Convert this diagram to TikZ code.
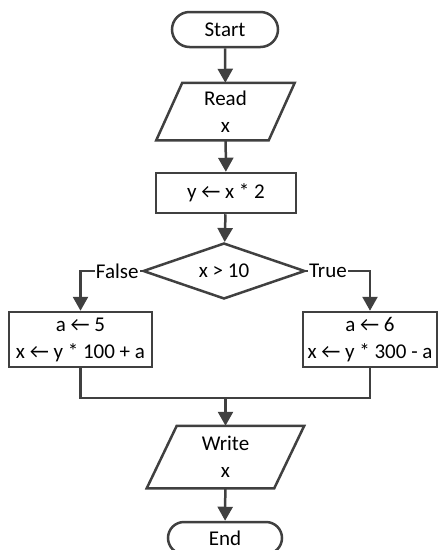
\documentclass[tikz,border=0pt]{standalone}
\usepackage{fontspec}
\setmainfont{Carlito}
\usetikzlibrary{shapes.geometric,shapes.misc,arrows.meta}
\definecolor{ln}{HTML}{404040}
\begin{document}
\begin{tikzpicture}[x=1pt,y=-1pt,
  base/.style={draw=ln, line width=2.5pt, font=\fontsize{21}{27}\selectfont, align=center, inner sep=0pt},
  term/.style={base, rounded rectangle, minimum height=35pt},
  procbox/.style={base, rectangle, minimum height=55pt},
  iobox/.style={base, draw=none, rectangle},
  decis/.style={base, diamond, aspect=2.9, minimum width=162pt, minimum height=56pt},
  line/.style={draw=ln, line width=2.5pt},
  arr/.style={line, -{Triangle[length=14pt,width=15pt]}},
  lbl/.style={font=\fontsize{21}{24}\selectfont, fill=white, inner sep=1pt}
]
\useasboundingbox (0,0) rectangle (442,550);
\node[term, minimum width=106pt] (start) at (225,29.5) {Start};
\node[iobox, minimum width=110pt, minimum height=55pt] (read) at (225.5,111.5) {Read\\x};
\draw[line, line join=miter] ([xshift=13pt]read.north west) -- ([xshift=13pt]read.north east) -- ([xshift=-13pt]read.south east) -- ([xshift=-13pt]read.south west) -- cycle;
\node[procbox, minimum width=140pt, minimum height=40pt] (calc) at (226,193) {y ← x * 2};
\node[decis] (dec) at (224,271) {x > 10};
\node[procbox, minimum width=143pt] (lbox) at (80.5,339.5) {a ← 5\\x ← y * 100 + a};
\node[procbox, minimum width=134pt] (rbox) at (370,339.5) {a ← 6\\x ← y * 300 - a};
\coordinate (m) at (225.5,398);
\node[iobox, minimum width=125pt, minimum height=60pt] (write) at (225.5,457) {Write\\x};
\draw[line, line join=miter] ([xshift=15pt]write.north west) -- ([xshift=15pt]write.north east) -- ([xshift=-15pt]write.south east) -- ([xshift=-15pt]write.south west) -- cycle;
\node[term, minimum width=114pt, minimum height=32pt] (end) at (225,538) {End};
\draw[arr] (start) -- (read);
\draw[arr] (read) -- (calc);
\draw[arr] (calc) -- (dec);
\draw[arr] (dec.west) -| node[lbl, pos=0.2] {False} (lbox.north);
\draw[arr] (dec.east) -| node[lbl, pos=0.17] {True} (rbox.north);
\draw[line] (lbox.south) |- (m);
\draw[line] (rbox.south) |- (m);
\draw[arr] (m) -- (write.north);
\draw[arr] (write) -- (end);
\end{tikzpicture}
\end{document}
